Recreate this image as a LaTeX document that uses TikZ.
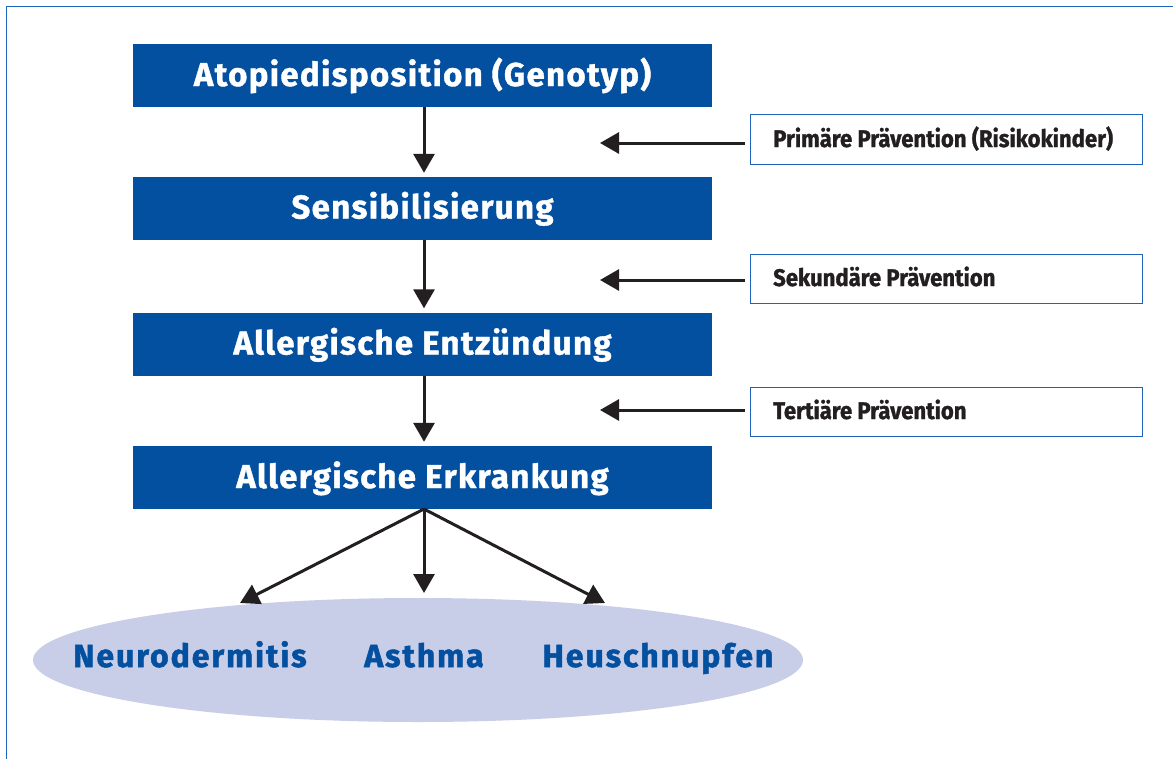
\documentclass[tikz,border=0pt]{standalone}
\usepackage{fontspec}
\setmainfont{Fira Sans}
\newfontfamily\headfont[LetterSpace=4.0,FakeBold=1.2]{Fira Sans}
\newfontfamily\ellfont[LetterSpace=6,FakeBold=1.5]{Fira Sans}
\newfontfamily\condfont[FakeStretch=0.92,FakeBold=1.2]{Fira Sans}
\usetikzlibrary{arrows.meta,shapes.geometric}
\definecolor{boxblue}{HTML}{0350A0}
\definecolor{frameblue}{HTML}{1F64B8}
\definecolor{ellfill}{HTML}{C8CDE8}
\definecolor{arrowblack}{HTML}{231F20}
\tikzset{
  bbox/.style={fill=boxblue, minimum width=579pt, minimum height=63pt, inner sep=0pt},
  btext/.style={text=white, anchor=base, inner sep=0pt, font=\headfont\bfseries\fontsize{33}{36}\selectfont},
  rbox/.style={draw=frameblue, line width=1pt, fill=white, minimum width=392pt, inner sep=0pt},
  rtext/.style={anchor=base west, inner sep=0pt, font=\condfont\bfseries\fontsize{24}{27}\selectfont, text=arrowblack},
  arr/.style={draw=arrowblack, line width=3pt, -{Triangle[length=19pt,width=21pt]}},
  etext/.style={text=boxblue, anchor=base, font=\ellfont\bfseries\fontsize{32}{34}\selectfont, inner sep=0pt},
}
\begin{document}
\begin{tikzpicture}[x=1pt,y=-1pt]
\useasboundingbox (0,0) rectangle (1173,758);
\clip (0,0) rectangle (1173,758);
\fill[white] (0,0) rectangle (1173,758);
\draw[frameblue, line width=1.5pt] (6.5,6.5) rectangle (1200,790);

\node[bbox] (a) at (422.5,75.5) {};
\node[bbox] (b) at (422.5,208.5) {};
\node[bbox] (c) at (422.5,344) {};
\node[bbox] (d) at (422.5,477.5) {};
\node[btext] (at) at (422.5,86) {Atopiedisposition (Genotyp)};
\node[btext] (bt) at (422.5,218.5) {Sensibilisierung};
\node[btext] (ct) at (422.5,354.5) {Allergische Entzündung};
\node[btext] (dt) at (422.5,488) {Allergische Erkrankung};

\node[rbox, minimum height=50pt] (pa) at (946,139) {};
\node[rbox, minimum height=49pt] (pb) at (946,278.5) {};
\node[rbox, minimum height=49pt] (pc) at (946,411.5) {};
\node[rtext] (pat) at (773,147) {Primäre Prävention (Risikokinder)};
\node[rtext] (pbt) at (773,286) {Sekundäre Prävention};
\node[rtext] (pct) at (773,419) {Tertiäre Prävention};

\draw[arr, shorten >=4pt] (a.south -| 424,0) -- (b.north -| 424,0);
\draw[arr, shorten >=4pt] (b.south -| 424,0) -- (c.north -| 424,0);
\draw[arr, shorten >=4pt] (c.south -| 424,0) -- (d.north -| 424,0);

\coordinate (ta) at (600,143);
\coordinate (tb) at (600,280);
\coordinate (tc) at (600,410);
\draw[arr] ([xshift=-5pt]pa.west |- ta) -- (ta);
\draw[arr] ([xshift=-5pt]pb.west |- tb) -- (tb);
\draw[arr] ([xshift=-5pt]pc.west |- tc) -- (tc);

\node[ellipse, fill=ellfill, minimum width=770pt, minimum height=124pt, inner sep=0pt] (e) at (418,660) {};
\node[etext] (n1) at (190,667) {Neurodermitis};
\node[etext] (n2) at (424,667) {Asthma};
\node[etext] (n3) at (658,667) {Heuschnupfen};

\coordinate (f0) at (424,509);
\coordinate (f1) at (240,603);
\coordinate (f2) at (424,593);
\coordinate (f3) at (605,603);
\draw[arr] (f0) -- (f1);
\draw[arr] (f0) -- (f2);
\draw[arr] (f0) -- (f3);
\end{tikzpicture}
\end{document}
